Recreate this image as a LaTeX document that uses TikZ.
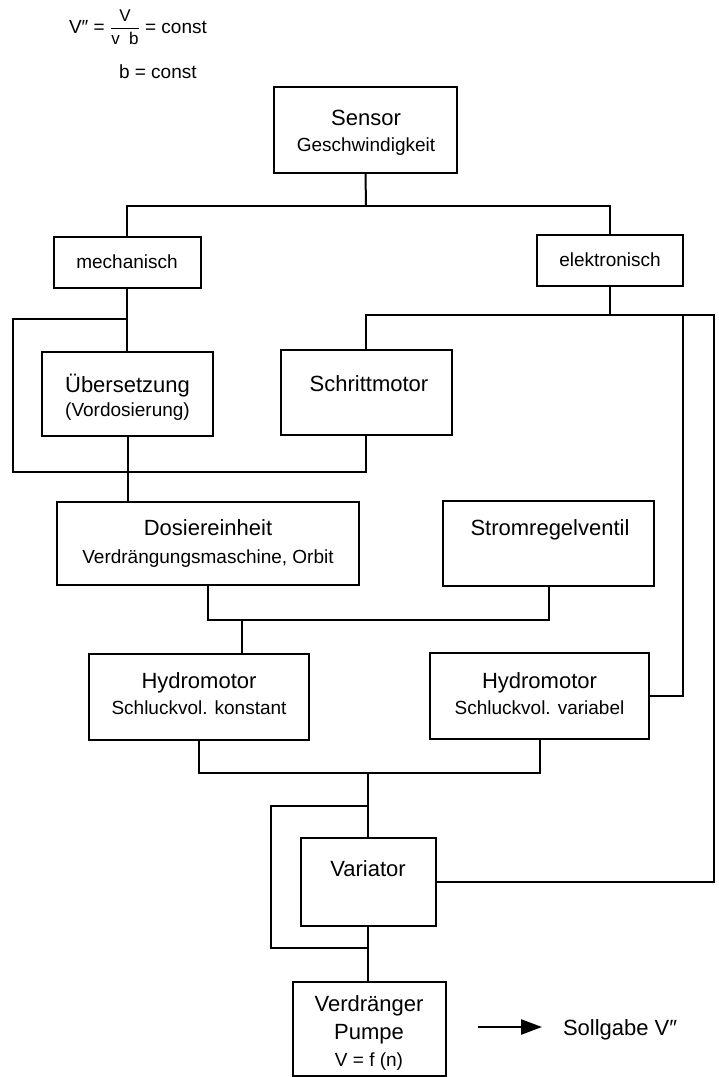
\documentclass[tikz,border=0pt]{standalone}
\usepackage{fontspec}
\setmainfont{Liberation Sans}
\usetikzlibrary{arrows.meta}

\begin{document}
\begin{tikzpicture}[x=1pt,y=-1pt,line width=2pt,
		blk/.style={draw,line width=2pt,inner sep=0pt},
		big/.style={anchor=base,inner sep=0pt,font=\fontsize{22}{26}\selectfont},
		sml/.style={anchor=base,inner sep=0pt,font=\fontsize{19}{22}\selectfont}]
	\useasboundingbox (0,0) rectangle (719,1077);
	% formel
	\node[sml,anchor=base west] (f1) at (68,33) {V″ = $\displaystyle\frac{\mbox{\fontsize{17}{19}\selectfont V}}{\mbox{\fontsize{17}{19}\selectfont v\ \ b}}$ = const};
	\node[sml,anchor=base west] (f2) at (118,78) {b = const};
	% boxen
	\node[blk,minimum width=183,minimum height=86] (sensor) at (365.5,130) {};
	\node[big] (sensorA) at (366,125) {Sensor};
	\node[sml] (sensorB) at (366,151) {Geschwindigkeit};
	\node[blk,minimum width=147,minimum height=51] (mech) at (127,262.5) {};
	\node[sml] (mechA) at (127,268) {mechanisch};
	\node[blk,minimum width=146,minimum height=51] (elek) at (610,260.5) {};
	\node[sml] (elekA) at (610,266) {elektronisch};
	\node[blk,minimum width=171,minimum height=84] (uebers) at (127.5,394) {};
	\node[big] (uebersA) at (127.5,392) {Übersetzung};
	\node[sml] (uebersB) at (127.5,416) {(Vordosierung)};
	\node[blk,minimum width=171,minimum height=85] (schritt) at (366,392.5) {};
	\node[big] (schrittA) at (369,391) {Schrittmotor};
	\node[blk,minimum width=302,minimum height=83] (dosier) at (208,543.5) {};
	\node[big] (dosierA) at (208,535) {Dosiereinheit};
	\node[sml] (dosierB) at (208,563) {Verdrängungsmaschine, Orbit};
	\node[blk,minimum width=211,minimum height=85] (strom) at (548.5,543.5) {};
	\node[big] (stromA) at (550,535) {Stromregelventil};
	\node[blk,minimum width=220,minimum height=86] (hyd1) at (199,697) {};
	\node[big] (hyd1A) at (199,688) {Hydromotor};
	\node[sml] (hyd1B) at (199,714) {Schluckvol. konstant};
	\node[blk,minimum width=219,minimum height=86] (hyd2) at (539.5,696) {};
	\node[big] (hyd2A) at (539.5,688) {Hydromotor};
	\node[sml] (hyd2B) at (539.5,714) {Schluckvol. variabel};
	\node[blk,minimum width=135,minimum height=88] (var) at (368,882) {};
	\node[big] (varA) at (368,876) {Variator};
	\node[blk,minimum width=153,minimum height=94] (pump) at (369,1029) {};
	\node[big] (pumpA) at (369,1011) {Verdränger};
	\node[big] (pumpB) at (369,1039) {Pumpe};
	\node[sml] (pumpC) at (369,1066) {V = f (n)};
	\node[big,anchor=base west] (soll) at (562,1035) {Sollgabe V″};
	% knoten
	\coordinate (j1) at (366,206);
	\coordinate (m1) at (127,319);
	\coordinate (m2) at (13,472);
	\coordinate (r1) at (683,315);
	\coordinate (r2) at (714,315);
	\coordinate (d1) at (242,620);
	\coordinate (h1) at (368,773);
	\coordinate (v1) at (368,806);
	\coordinate (v2) at (271,948);
	\coordinate (a0) at (478,1027);
	% linien
	\draw (sensor.south) -- (j1);
	\draw (mech.north) |- (j1) -| (elek.north);
	\draw (mech.south) -- (mech.south |- uebers.north);
	\draw (m1) -| (m2) -| (schritt.south);%mech
	\draw (uebers.south) -- (uebers.south |- dosier.north);
	\draw (elek.south) -- (elek.south |- r2);
	\draw (schritt.north) |- (r2) |- (var.east);%elek
	\draw (r1) |- (hyd2.east);
	\draw (dosier.south) |- (d1) -| (strom.south);
	\draw (d1) -- (d1 |- hyd1.north);
	\draw (hyd1.south) |- (h1) -| (hyd2.south);
	\draw (h1) -- (var.north);
	\draw (v1) -| (v2) -- (v2 -| var.south);
	\draw (var.south) -- (var.south |- pump.north);
	\draw[-{Triangle[length=21pt,width=15pt]},line width=2.4pt,shorten >=20pt] (a0) -- (a0 -| soll.west);
\end{tikzpicture}
\end{document}
